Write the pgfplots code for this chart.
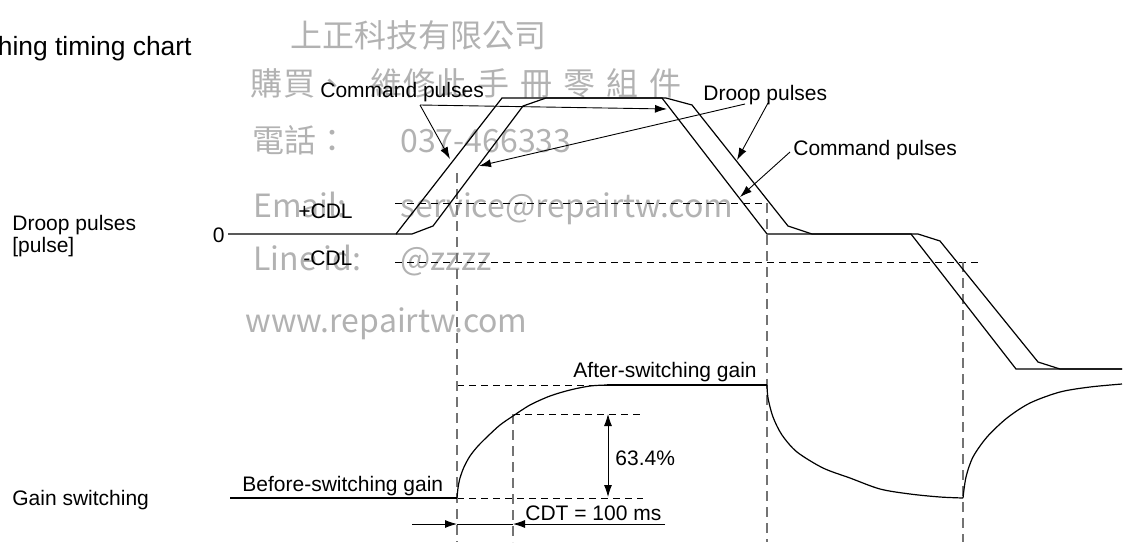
\documentclass[border=0pt]{standalone}
\usepackage{fontspec}
\setmainfont{Liberation Sans}
\newfontfamily\cjk{Noto Sans CJK TC}
\usepackage{pgfplots}
\pgfplotsset{compat=1.18}
\usetikzlibrary{arrows.meta}
\definecolor{wm}{RGB}{178,178,178}
\definecolor{vgrey}{RGB}{115,115,115}

\tikzset{
  trace/.style={black, line width=0.6pt},
  hdash/.style={black, line width=0.45pt, dash pattern=on 3.5pt off 2.5pt},
  vdash/.style={vgrey, line width=0.9pt, dash pattern=on 5pt off 3pt},
  arr/.style={black, line width=0.45pt, -{Latex[length=6pt,width=4pt]}},
  darr/.style={black, line width=0.45pt, {Latex[length=6pt,width=4pt]}-{Latex[length=6pt,width=4pt]}},
  lbl/.style={font=\fontsize{10.5}{12}\selectfont, anchor=base west, inner sep=0pt},
  wmk/.style={font=\cjk\fontsize{16}{18}\selectfont, text=wm, anchor=base west, inner sep=0pt},
}

\begin{document}
\begin{tikzpicture}
\begin{axis}[
  x=0.5pt, y=0.5pt, y dir=reverse,
  xmin=0, xmax=1124, ymin=0, ymax=542,
  hide axis, clip=false,
]
% watermark
\node[wmk] at (axis cs:290,47) {上正科技有限公司};
\node[wmk] at (axis cs:250,95) {購};
\node[wmk] at (axis cs:283,95) {買};
\node[wmk] at (axis cs:316,95) {、};
\node[wmk] at (axis cs:370,95) {維};
\node[wmk] at (axis cs:403,95) {修};
\node[wmk] at (axis cs:435,95) {此};
\node[wmk] at (axis cs:477,95) {手};
\node[wmk] at (axis cs:520,95) {冊};
\node[wmk] at (axis cs:563,95) {零};
\node[wmk] at (axis cs:606,95) {組};
\node[wmk] at (axis cs:649,95) {件};
\node[wmk] at (axis cs:252,152) {電話：};
\node[wmk] at (axis cs:400,152) {037-466333};
\node[wmk] at (axis cs:253,217) {Email:};
\node[wmk] at (axis cs:400,217) {service@repairtw.com};
\node[wmk] at (axis cs:253,270) {Line id:};
\node[wmk] at (axis cs:400,270) {@zzzz};
\node[wmk] at (axis cs:245,332) {www.repairtw.com};

% dashed guides
\addplot[hdash] coordinates {(395,203) (767,203)};
\addplot[hdash] coordinates {(395,262) (979,262)};
\addplot[hdash] coordinates {(457,385) (607,385)};
\addplot[hdash] coordinates {(513,414) (643,414)};
\addplot[hdash] coordinates {(457,498) (643,498)};
\addplot[vdash] coordinates {(457,173) (457,542)};
\addplot[vdash] coordinates {(513,414) (513,542)};
\addplot[vdash] coordinates {(767,203) (767,542)};
\addplot[vdash] coordinates {(963,262) (963,542)};

% command pulses and droop pulses
\addplot[trace] coordinates {(228,234) (396,234) (502,98) (662,98) (767,234) (911,234) (1016,369) (1122,369)};
\addplot[trace] coordinates {(396,234) (412,234) (433,226) (523,106) (546,98) (666,98) (692,105) (788,226) (812,234) (918,234) (940,241) (1038,362) (1060,369) (1122,369)};

% gain switching
\addplot[trace] coordinates {(230,498) (457,498)};
\addplot[trace, smooth] coordinates {(457,498) (458,488) (460,478) (464,467) (470,456) (478,446) (488,436) (500,425) (513,416) (530,405) (550,396) (570,390) (590,386) (607,385)};
\addplot[trace] coordinates {(607,385) (767,385)};
\addplot[trace, smooth] coordinates {(767,385) (768,398) (773,417) (782,435) (797,452) (823,468) (850,478) (880,489) (910,494) (940,497) (963,498)};
\addplot[trace, smooth] coordinates {(963,498) (966,477) (973,457) (987,437) (1007,418) (1030,403) (1060,392) (1090,387) (1122,384)};

% leader arrows
\addplot[arr] coordinates {(420,105) (450,159)};
\addplot[arr] coordinates {(420,105) (667,109)};
\addplot[arr] coordinates {(745,104) (479,166)};
\addplot[arr] coordinates {(768,103) (737,160)};
\addplot[arr] coordinates {(790,152) (740,197)};
\addplot[darr] coordinates {(608,414) (608,497)};
\addplot[arr] coordinates {(412,524) (457,524)};
\addplot[black, line width=0.45pt] coordinates {(457,524) (513,524)};
\addplot[arr] coordinates {(665,524) (513,524)};

% labels
\node[anchor=base east, inner sep=0pt, font=\fontsize{13.2}{15}\selectfont] at (axis cs:192,55) {Gain switching timing chart};
\node[lbl] at (axis cs:12,230) {Droop pulses};
\node[lbl] at (axis cs:12,252) {[pulse]};
\node[lbl] at (axis cs:12,505) {Gain switching};
\node[lbl, anchor=base east] at (axis cs:225,242) {0};
\node[lbl] at (axis cs:298,218) {+CDL};
\node[lbl] at (axis cs:303,265) {-CDL};
\node[lbl] at (axis cs:320,97) {Command pulses};
\node[lbl] at (axis cs:703,100) {Droop pulses};
\node[lbl] at (axis cs:793,155) {Command pulses};
\node[lbl] at (axis cs:573,377) {After-switching gain};
\node[lbl] at (axis cs:242,491) {Before-switching gain};
\node[lbl] at (axis cs:615,465) {63.4\%};
\node[lbl] at (axis cs:525,520) {CDT = 100 ms};

\coordinate (tl) at (axis cs:0,0);
\coordinate (br) at (axis cs:1124,542);
\end{axis}
\pgfresetboundingbox
\useasboundingbox (tl) rectangle (br);
\end{tikzpicture}
\end{document}
